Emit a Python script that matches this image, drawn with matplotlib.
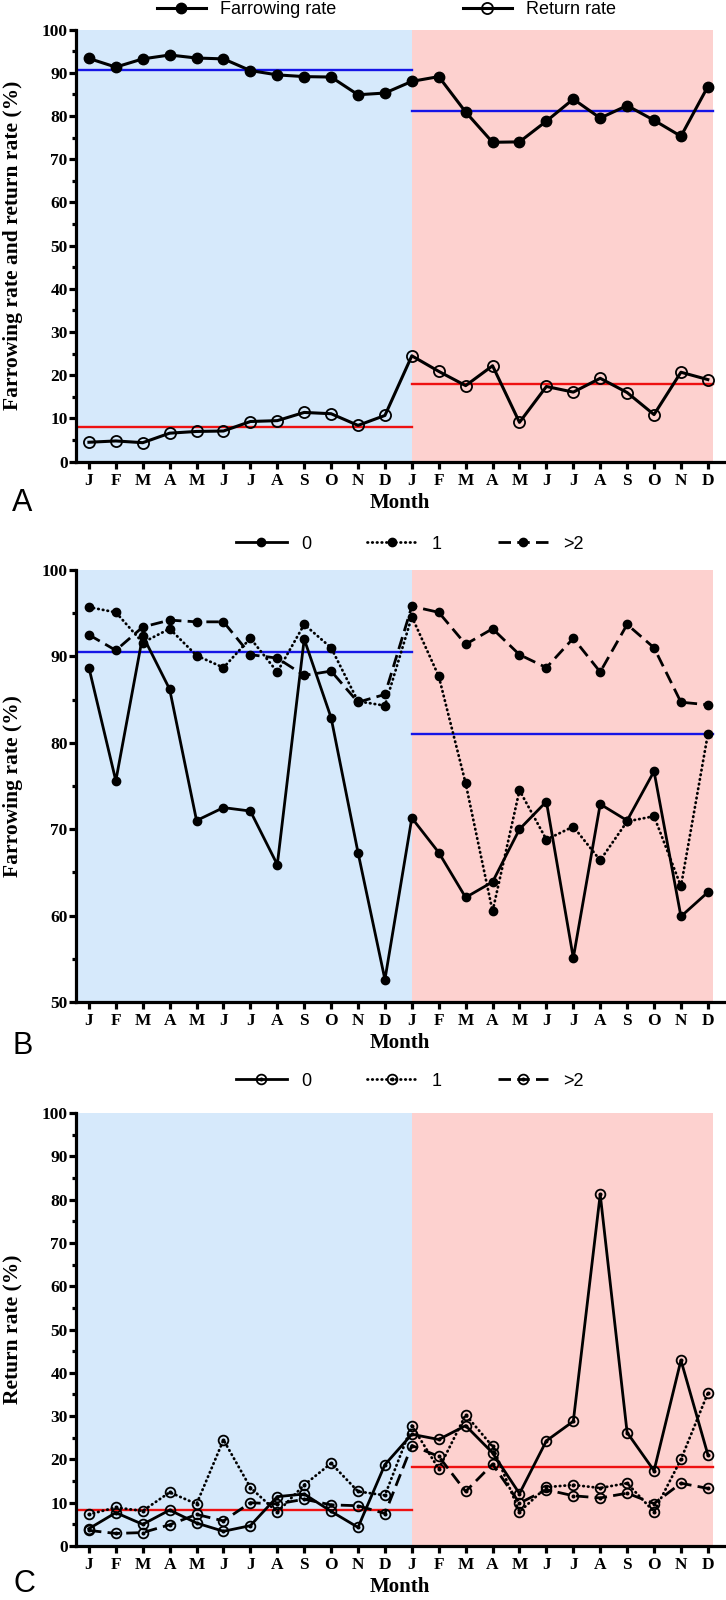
import matplotlib
matplotlib.use("Agg")
import matplotlib.pyplot as plt
from matplotlib.legend_handler import HandlerTuple
from matplotlib.ticker import MultipleLocator

plt.rcParams["lines.scale_dashes"] = False

MONTHS = ["J", "F", "M", "A", "M", "J", "J", "A", "S", "O", "N", "D"] * 2

# (A) farrowing / return rate, all sows
farrowing = [93.3, 91.3, 93.2, 94.1, 93.4, 93.2, 90.5, 89.5, 89.1, 89.0, 84.9, 85.3,
             88.0, 89.1, 80.9, 73.9, 74.0, 78.8, 83.9, 79.5, 82.4, 79.0, 75.3, 86.8]
return_rate = [4.5, 4.8, 4.4, 6.6, 7.0, 7.1, 9.3, 9.5, 11.4, 11.1, 8.4, 10.7,
               24.5, 20.9, 17.6, 22.2, 9.1, 17.4, 16.1, 19.3, 16.0, 10.9, 20.7, 19.0]
farrow_mean_a = [90.6, 81.2]
return_mean_a = [8.0, 18.0]

# (B) farrowing rate by group
farrow_0 = [88.7, 75.6, 92.4, 86.2, 71.0, 72.5, 72.1, 65.9, 92.0, 82.9, 67.3, 52.6,
            71.3, 67.3, 62.1, 63.9, 70.0, 73.2, 55.1, 72.9, 71.0, 76.7, 59.9, 62.7]
farrow_1 = [95.7, 95.1, 91.6, 93.2, 90.1, 88.7, 92.1, 88.2, 93.7, 91.0, 84.8, 84.3,
            94.6, 87.7, 75.3, 60.5, 74.5, 68.8, 70.3, 66.4, 70.9, 71.5, 63.4, 81.0]
farrow_2 = [92.5, 90.7, 93.4, 94.2, 94.0, 94.0, 90.2, 89.8, 87.8, 88.3, 84.7, 85.6,
            95.8, 95.1, 91.4, 93.2, 90.2, 88.7, 92.1, 88.2, 93.7, 91.0, 84.7, 84.4]
farrow_mean_b = [90.5, 81.0]

# (C) return rate by group
return_0 = [4.0, 7.7, 5.0, 8.3, 5.3, 3.4, 4.7, 11.4, 12.0, 8.0, 4.3, 18.8,
            25.8, 24.6, 27.8, 21.5, 12.1, 24.3, 28.8, 81.2, 26.2, 17.4, 42.9, 21.1]
return_1 = [7.3, 8.9, 8.1, 12.4, 9.7, 24.5, 13.5, 7.8, 14.1, 19.1, 12.6, 11.7,
            27.8, 17.8, 30.3, 23.0, 7.9, 13.6, 14.1, 13.4, 14.5, 7.9, 20.0, 35.3]
return_2 = [3.6, 2.9, 3.1, 4.9, 7.3, 5.8, 10.0, 9.7, 10.8, 9.5, 9.3, 7.5,
            23.2, 20.7, 12.6, 18.9, 9.9, 13.0, 11.6, 11.1, 12.2, 9.8, 14.5, 13.3]
return_mean_c = [8.3, 18.2]

GROUPS = ["0", "1", ">2"]

BLUE_BG = "#d6e9fb"
RED_BG = "#fdd1cf"
C_BLUE = "#1515e6"
C_RED = "#ee1111"
SERIF = "Liberation Serif"
SANS = "Liberation Sans"

W, H = 726, 1600
X0, X_SPLIT, X_END, X_MAX = -0.48, 12, 23.2, 23.6
DOT = dict(dashes=(0.4, 3.0), dash_capstyle="round")
DASH = dict(dashes=(9, 4.5))
STYLES = [dict(ls="-"), DOT, DASH]

fig = plt.figure(figsize=(W / 100, H / 100), dpi=100)
L, AW = 76 / W, (724 - 76) / W
axA = fig.add_axes([L, 1 - 461.7 / H, AW, 432.2 / H])
axB = fig.add_axes([L, 1 - 1002 / H, AW, 432 / H])
axC = fig.add_axes([L, 1 - 1546 / H, AW, 433 / H])
xs = list(range(len(MONTHS)))


def frame(ax, ylo, yhi, means, mcolor):
    ax.set_facecolor("none")
    ax.axvspan(X0, X_SPLIT, color=BLUE_BG, lw=0, zorder=0)
    ax.axvspan(X_SPLIT, X_END, color=RED_BG, lw=0, zorder=0)
    ax.plot([X0, X_SPLIT], [means[0]] * 2, color=mcolor, lw=1.7, zorder=2)
    ax.plot([X_SPLIT, X_END], [means[1]] * 2, color=mcolor, lw=1.7, zorder=2)
    ax.set_xlim(X0, X_MAX)
    ax.set_ylim(ylo, yhi)
    for s in ["top", "right"]:
        ax.spines[s].set_visible(False)
    for s in ["left", "bottom"]:
        ax.spines[s].set_linewidth(2.3)
    ax.set_xticks(xs)
    ax.set_xticklabels(MONTHS)
    ax.yaxis.set_major_locator(MultipleLocator(10))
    ax.yaxis.set_minor_locator(MultipleLocator(5))
    ax.tick_params(axis="both", which="major", length=5, width=2.3, labelsize=12.5)
    ax.tick_params(axis="y", which="minor", length=3, width=2.3)
    ax.tick_params(axis="y", pad=1)
    ax.tick_params(axis="x", pad=3)
    for t in ax.get_xticklabels() + ax.get_yticklabels():
        t.set_fontfamily(SERIF)
        t.set_fontweight("bold")
    ax.set_xlabel("Month", fontfamily=SERIF, fontweight="bold", fontsize=15, labelpad=3)


# ---- A ----
frame(axA, 0, 100, farrow_mean_a, C_BLUE)
axA.plot([X0, X_SPLIT], [return_mean_a[0]] * 2, color=C_RED, lw=1.7, zorder=2)
axA.plot([X_SPLIT, X_END], [return_mean_a[1]] * 2, color=C_RED, lw=1.7, zorder=2)
hA1, = axA.plot(xs, farrowing, color="k", lw=2.2, marker="o", ms=7.5, zorder=3,
                label="Farrowing rate")
hA2, = axA.plot(xs, return_rate, color="k", lw=2.2, marker="o", ms=8, mfc="none",
                mew=1.3, zorder=3, label="Return rate")

# ---- B ----
frame(axB, 50, 100, farrow_mean_b, C_BLUE)
hB = []
for vals, st, lab in zip([farrow_0, farrow_1, farrow_2], STYLES, GROUPS):
    h, = axB.plot(xs, vals, color="k", lw=2.0, marker="o", ms=6, zorder=3,
                  label=lab, **st)
    hB.append(h)

# ---- C ----
frame(axC, 0, 100, return_mean_c, C_RED)
hC = []
for vals, st in zip([return_0, return_1, return_2], STYLES):
    h1, = axC.plot(xs, vals, color="k", lw=2.0, marker="o", ms=7, mfc="none",
                   mew=1.3, zorder=3, **st)
    h2, = axC.plot(xs, vals, ls="none", marker="o", ms=1.9, color="k", zorder=4)
    hC.append((h1, h2))

leg_kw = dict(loc="center left", frameon=False, borderpad=0, borderaxespad=0,
              handletextpad=0.8, prop={"family": SANS, "size": 13})
fig.legend(handles=[hA1, hA2], ncol=2, handlelength=2.7, columnspacing=7.0,
           bbox_to_anchor=(157 / W, 1 - 10 / H), **leg_kw)
fig.legend(handles=hB, ncol=3, handlelength=2.8, columnspacing=3.1,
           bbox_to_anchor=(236 / W, 1 - 544 / H), **leg_kw)
fig.legend(handles=hC, labels=GROUPS, ncol=3, handlelength=2.8, columnspacing=3.1,
           handler_map={tuple: HandlerTuple(ndivide=1)},
           bbox_to_anchor=(236 / W, 1 - 1081 / H), **leg_kw)

# y labels and panel letters
for ax, txt in [(axA, "Farrowing rate and return rate (%)"),
                (axB, "Farrowing rate (%)"), (axC, "Return rate (%)")]:
    b = ax.get_position()
    fig.text(13 / W, b.y0 + b.height / 2, txt, rotation=90, ha="center", va="center",
             fontfamily=SERIF, fontweight="bold", fontsize=15.5)
for letter, x, y in [("A", 22, 503), ("B", 23, 1046), ("C", 24, 1584)]:
    fig.text(x / W, 1 - y / H, letter, ha="center", va="center", fontfamily=SANS,
             fontsize=22)

fig.savefig("out.png", dpi=100)
